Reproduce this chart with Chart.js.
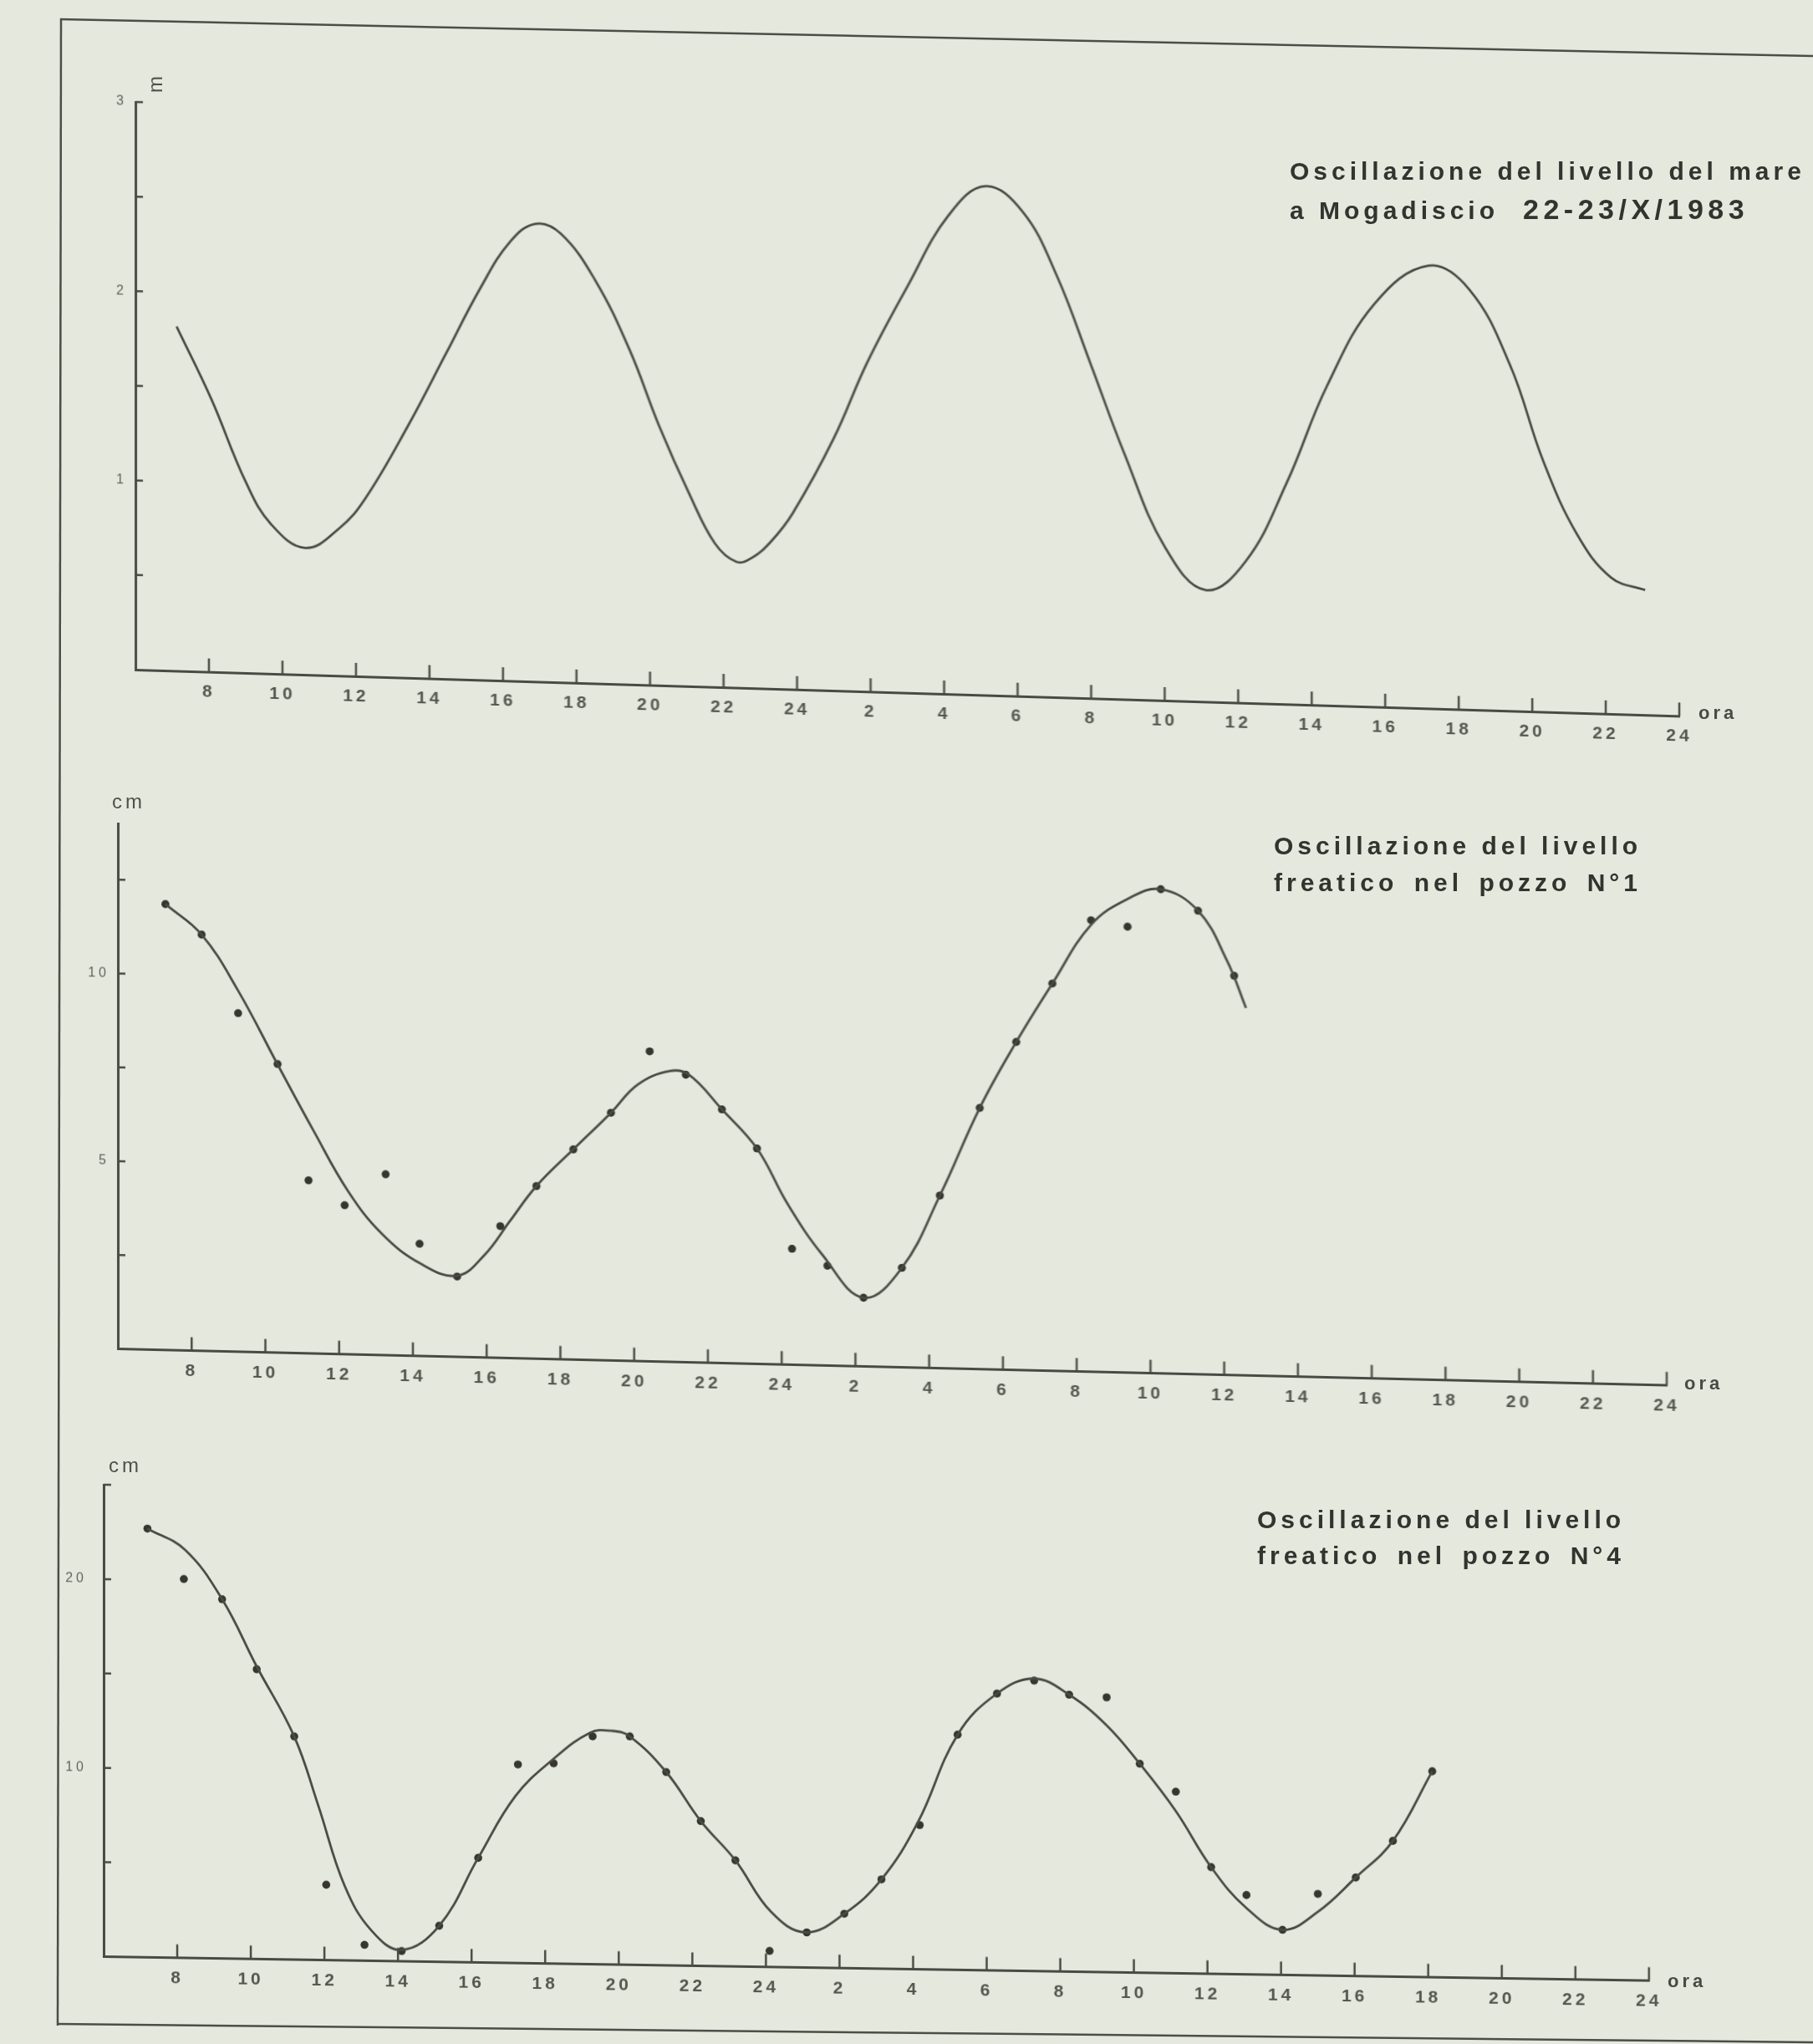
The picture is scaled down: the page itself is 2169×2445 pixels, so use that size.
<!DOCTYPE html>
<html>
<head>
<meta charset="utf-8">
<script src="https://cdn.jsdelivr.net/npm/chart.js@4.4.1/dist/chart.umd.min.js"></script>
<style>
html,body{margin:0;padding:0;background:#e5e9dd;}
#page{position:relative;width:2169px;height:2445px;overflow:hidden;background:#e5e9dd;font-family:"Liberation Sans",Arial,sans-serif;}
canvas{position:absolute;left:0;}
.t{position:absolute;white-space:nowrap;font-weight:bold;font-size:30px;line-height:30px;letter-spacing:5px;color:#33332f;}
.u{position:absolute;white-space:nowrap;font-size:24px;line-height:24px;letter-spacing:4px;color:#50504b;}
.ora{position:absolute;white-space:nowrap;font-size:22px;line-height:22px;letter-spacing:4px;font-weight:bold;color:#4a4a45;}
</style>
</head>
<body>
<div id="page">
<svg width="2169" height="2445" style="position:absolute;left:0;top:0">
  <g stroke="#4d4d48" stroke-width="2.5" fill="none">
    <line x1="72" y1="23" x2="2169" y2="67"/>
    <line x1="73" y1="22" x2="69" y2="2423"/>
    <line x1="69" y1="2421" x2="2169" y2="2443"/>
  </g>
</svg>

<canvas id="c1" width="2169" height="880" style="top:40px;transform:skewY(1.718deg);transform-origin:162px 761px;"></canvas>
<canvas id="c2" width="2169" height="800" style="top:920px;transform:skewY(1.346deg);transform-origin:141px 693.5px;"></canvas>
<canvas id="c3" width="2169" height="725" style="top:1720px;transform:skewY(0.888deg);transform-origin:124px 620.5px;"></canvas>

<div class="t" style="left:1543px;top:190px;">Oscillazione del livello del mare</div>
<div class="t" style="left:1543px;top:237px;">a Mogadiscio</div>
<div class="t" style="left:1822px;top:233px;font-size:34px;line-height:34px;letter-spacing:5.5px;">22-23/X/1983</div>

<div class="t" style="left:1524px;top:997px;">Oscillazione del livello</div>
<div class="t" style="left:1524px;top:1041px;word-spacing:6px;">freatico nel pozzo N°1</div>

<div class="t" style="left:1504px;top:1803px;">Oscillazione del livello</div>
<div class="t" style="left:1504px;top:1846px;word-spacing:6px;">freatico nel pozzo N°4</div>

<div class="u" style="left:175px;top:88px;width:24px;height:26px;text-align:center;letter-spacing:0;transform:rotate(-90deg);">m</div>
<div class="u" style="left:134px;top:947px;">cm</div>
<div class="u" style="left:130px;top:1741px;">cm</div>

<div class="ora" style="left:2032px;top:842px;">ora</div>
<div class="ora" style="left:2015px;top:1644px;">ora</div>
<div class="ora" style="left:1995px;top:2359px;">ora</div>
</div>

<script>
// ---------- data (hours counted from 0h of 22/X; 24-48 = second day) ----------
const hourTicks = [8,10,12,14,16,18,20,22,24,26,28,30,32,34,36,38,40,42,44,46,48];
const hourTickLabels = ['8','10','12','14','16','18','20','22','24','2','4','6','8','10','12','14','16','18','20','22','24'];

// Sea level at Mogadiscio (m)
const seaHours = [7.12, 8.07, 9.00, 9.69, 10.62, 11.55, 12.25, 13.41, 14.45, 15.38, 16.19, 16.89, 17.58, 18.51, 19.44, 20.25, 21.06, 21.76, 22.35, 22.78, 23.30, 23.88, 24.99, 25.91, 27.01, 28.12, 29.13, 30.14, 31.06, 31.98, 32.90, 34.01, 35.11, 36.21, 37.32, 38.42, 39.71, 41.18, 42.29, 43.39, 44.31, 45.23, 46.15, 47.07];
const seaLevel = [1.82, 1.44, 1.01, 0.79, 0.67, 0.78, 0.94, 1.33, 1.72, 2.07, 2.32, 2.42, 2.37, 2.13, 1.77, 1.37, 1.02, 0.76, 0.665, 0.69, 0.78, 0.93, 1.33, 1.74, 2.15, 2.53, 2.69, 2.56, 2.23, 1.77, 1.30, 0.81, 0.59, 0.75, 1.17, 1.69, 2.13, 2.34, 2.22, 1.83, 1.32, 0.94, 0.72, 0.66];
const seaTicks = [0.5, 1, 1.5, 2, 2.5, 3];
const seaTickLabels = ['', '1', '', '2', '', '3'];

// Well N°1 (cm)
const w1CurveHours = [7.29, 8.27, 9.26, 10.33, 11.32, 12.24, 13.16, 14.21, 15.20, 15.94, 16.63, 17.35, 18.35, 19.37, 20.10, 20.97, 21.49, 22.38, 23.33, 24.16, 25.11, 26.22, 27.26, 28.29, 29.37, 30.36, 31.34, 32.39, 33.38, 34.28, 35.29, 36.08, 36.59];
const w1CurveCm = [11.88, 11.09, 9.62, 7.68, 5.91, 4.35, 3.23, 2.46, 2.16, 2.73, 3.65, 4.60, 5.60, 6.60, 7.37, 7.75, 7.66, 6.76, 5.74, 4.28, 2.94, 1.83, 2.65, 4.60, 6.96, 8.74, 10.32, 11.91, 12.62, 12.90, 12.35, 11.03, 9.79];
const w1ObsHours = [7.29, 8.27, 9.26, 10.33, 11.17, 12.15, 13.26, 14.18, 15.20, 16.37, 17.35, 18.35, 19.37, 20.42, 21.40, 22.38, 23.33, 24.28, 25.24, 26.22, 27.26, 28.29, 29.37, 30.36, 31.34, 32.39, 33.38, 34.28, 35.29, 36.27];
const w1ObsCm = [11.88, 11.09, 9.02, 7.69, 4.61, 3.97, 4.82, 2.99, 2.14, 3.51, 4.60, 5.60, 6.60, 8.26, 7.66, 6.76, 5.74, 3.09, 2.66, 1.83, 2.65, 4.60, 6.96, 8.74, 10.32, 12.03, 11.88, 12.90, 12.35, 10.64];
const w1Ticks = [2.5, 5, 7.5, 10, 12.5];
const w1TickLabels = ['', '5', '', '10', ''];

// Well N°4 (cm)
const w4CurveHours = [7.19, 8.21, 9.22, 10.16, 11.18, 11.83, 12.55, 13.28, 14.10, 15.12, 16.18, 17.19, 18.23, 19.22, 19.80, 20.30, 21.29, 22.23, 23.17, 24.14, 25.09, 26.13, 27.14, 28.13, 29.21, 30.28, 31.29, 32.24, 33.26, 34.16, 35.14, 36.10, 37.06, 38.04, 39.00, 40.03, 41.04, 42.11];
const w4CurveCm = [22.71, 21.62, 19.03, 15.50, 11.82, 8.20, 3.95, 1.60, 0.60, 1.91, 5.54, 8.84, 10.85, 12.26, 12.38, 12.10, 10.24, 7.67, 5.62, 2.92, 1.86, 2.88, 4.73, 7.79, 12.46, 14.67, 15.49, 14.67, 13.08, 11.07, 8.59, 5.65, 3.51, 2.39, 3.37, 5.22, 7.19, 10.91];
const w4ObsHours = [7.19, 8.18, 9.22, 10.16, 11.18, 12.05, 13.09, 14.10, 15.12, 16.18, 17.26, 18.23, 19.29, 20.30, 21.29, 22.23, 23.17, 24.10, 25.11, 26.13, 27.14, 28.18, 29.21, 30.28, 31.29, 32.24, 33.26, 34.16, 35.14, 36.10, 37.06, 38.04, 39.00, 40.03, 41.04, 42.11];
const w4ObsCm = [22.71, 20.07, 19.03, 15.35, 11.82, 3.99, 0.84, 0.54, 1.91, 5.54, 10.52, 10.61, 12.07, 12.10, 10.24, 7.67, 5.62, 0.85, 1.86, 2.88, 4.73, 7.64, 12.46, 14.67, 15.39, 14.67, 14.56, 11.07, 9.62, 5.65, 4.20, 2.39, 4.32, 5.22, 7.19, 10.91];
const w4Ticks = [5, 10, 15, 20, 25];
const w4TickLabels = ['', '10', '', '20', ''];

// ---------- drawing ----------
const INK = '#4a4a44';
const DOT = '#36362f';

const inwardTicks = {
  id: 'inwardTicks',
  afterDraw(chart, args, o) {
    const ctx = chart.ctx, xs = chart.scales.x, ys = chart.scales.y, a = chart.chartArea;
    ctx.save();
    ctx.strokeStyle = o.color; ctx.lineWidth = o.width;
    ctx.beginPath();
    xs.ticks.forEach(t => { const p = xs.getPixelForValue(t.value); ctx.moveTo(p, a.bottom); ctx.lineTo(p, a.bottom - o.xLen); });
    ys.ticks.forEach(t => { const p = ys.getPixelForValue(t.value); ctx.moveTo(a.left, p); ctx.lineTo(a.left + o.yLen, p); });
    ctx.stroke();
    ctx.restore();
  }
};
const spacing = {
  id: 'spacing',
  beforeDraw(chart, args, o) { chart.ctx.letterSpacing = o.px + 'px'; },
  afterDraw(chart) { chart.ctx.letterSpacing = '0px'; }
};

function pts(xs, ys) { return xs.map((x, i) => ({x: x, y: ys[i]})); }

function makeChart(id, p) {
  return new Chart(document.getElementById(id), {
    type: 'line',
    data: { datasets: p.datasets },
    options: {
      responsive: false, animation: false, devicePixelRatio: 1,
      layout: { padding: { top: p.padTop, right: p.padRight, bottom: 0, left: 0 } },
      plugins: {
        legend: { display: false }, tooltip: { enabled: false },
        inwardTicks: { color: INK, width: 2.5, xLen: 16, yLen: 9 },
        spacing: { px: 4 }
      },
      scales: {
        x: {
          type: 'linear', min: 6, max: 48,
          afterBuildTicks: s => { s.ticks = hourTicks.map(v => ({ value: v })); },
          afterFit: s => { s.height = p.xH; },
          grid: { display: false, drawTicks: false },
          border: { display: true, color: INK, width: 3 },
          ticks: { autoSkip: false, maxRotation: 0, padding: 12, color: '#55554f',
                   font: { family: 'Liberation Sans', size: 21, weight: 'bold' },
                   callback: (v, i) => hourTickLabels[i] }
        },
        y: {
          type: 'linear', min: 0, max: p.yMax,
          afterBuildTicks: s => { s.ticks = p.yTicks.map(v => ({ value: v })); },
          afterFit: s => { s.width = p.L; },
          grid: { display: false, drawTicks: false },
          border: { display: true, color: INK, width: 3 },
          ticks: { autoSkip: false, padding: p.yPad, color: '#62625c',
                   font: { family: 'Liberation Sans', size: 16 },
                   callback: (v, i) => p.yLabels[i] }
        }
      }
    },
    plugins: [inwardTicks, spacing]
  });
}

function curve(xs, ys) {
  return { type: 'line', data: pts(xs, ys), borderColor: INK, borderWidth: 2.8, pointRadius: 0,
           tension: 0.4, fill: false };
}
function dots(xs, ys) {
  return { type: 'scatter', data: pts(xs, ys), pointRadius: 4.8, pointBackgroundColor: DOT,
           pointBorderWidth: 0, showLine: false };
}

makeChart('c1', { L: 162, padTop: 82, padRight: 160, xH: 119, yMax: 3, yPad: 10,
  yTicks: seaTicks, yLabels: seaTickLabels,
  datasets: [curve(seaHours, seaLevel)] });

makeChart('c2', { L: 141, padTop: 65, padRight: 175, xH: 106.5, yMax: 14, yPad: 10,
  yTicks: w1Ticks, yLabels: w1TickLabels,
  datasets: [curve(w1CurveHours, w1CurveCm), dots(w1ObsHours, w1ObsCm)] });

makeChart('c3', { L: 124, padTop: 56, padRight: 196, xH: 104.5, yMax: 25, yPad: 20,
  yTicks: w4Ticks, yLabels: w4TickLabels,
  datasets: [curve(w4CurveHours, w4CurveCm), dots(w4ObsHours, w4ObsCm)] });
</script>
</body>
</html>
